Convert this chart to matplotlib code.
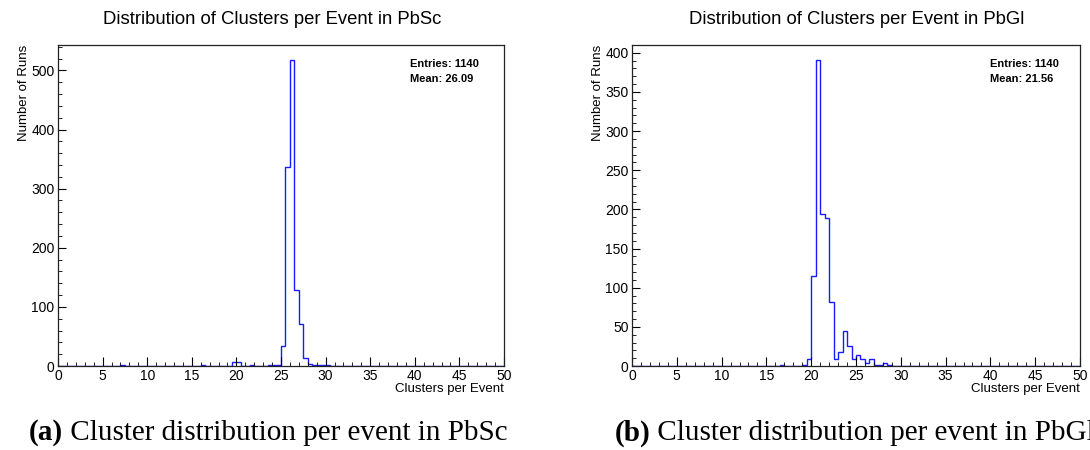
import numpy as np
import matplotlib
matplotlib.use("Agg")
import matplotlib.pyplot as plt
from matplotlib.ticker import MultipleLocator

# ---------------- data ----------------
bin_edges = np.linspace(0, 50, 101)  # 0.5-wide bins

pbsc_bin_lo = [7.0, 16.0, 19.5, 20.0, 21.5, 23.5, 24.0, 24.5, 25.0, 25.5,
               26.0, 26.5, 27.0, 27.5, 28.0, 28.5, 29.0, 29.5, 30.0]
pbsc_counts = [1, 1, 7, 7, 1, 1, 1, 2, 33, 337,
               517, 129, 71, 13, 4, 1, 1, 1, 1]

pbgl_bin_lo = [16.5, 19.0, 19.5, 20.0, 20.5, 21.0, 21.5, 22.0, 22.5, 23.0,
               23.5, 24.0, 24.5, 25.0, 25.5, 26.0, 26.5, 27.0, 27.5, 28.0, 28.5]
pbgl_counts = [1, 1, 9, 115, 391, 194, 189, 82, 9, 18,
               45, 25, 9, 14, 9, 4, 9, 1, 1, 4, 1]

titles = ["Distribution of Clusters per Event in PbSc",
          "Distribution of Clusters per Event in PbGl"]
stats_entries = ["Entries: 1140", "Entries: 1140"]
stats_mean = ["Mean: 26.09", "Mean: 21.56"]
captions = [("(a)", " Cluster distribution per event in PbSc"),
            ("(b)", " Cluster distribution per event in PbGl")]
x_label = "Clusters per Event"
y_label = "Number of Runs"


def fill(lo, counts):
    vals = np.zeros(len(bin_edges) - 1)
    for l, c in zip(lo, counts):
        vals[int(round(l / 0.5))] = c
    return vals


hists = [fill(pbsc_bin_lo, pbsc_counts), fill(pbgl_bin_lo, pbgl_counts)]

# ---------------- figure ----------------
plt.rcParams['font.family'] = ['Liberation Sans', 'DejaVu Sans']
fig = plt.figure(figsize=(10.9, 4.5), dpi=100)
W, H = 1090.0, 450.0

axes_px = [(58, 504), (632, 1080)]
top_px, bot_px = 45, 366
ylims = [543, 410]
ymaj = [100, 50]
ymin = [20, 10]
title_x = [272, 857]
stat_x = [410, 990]

for i in range(2):
    x0, x1 = axes_px[i]
    ax = fig.add_axes([x0 / W, (H - bot_px) / H, (x1 - x0) / W, (bot_px - top_px) / H])
    ax.stairs(hists[i], bin_edges, color='#1a1aff', lw=1.0, zorder=1)
    ax.set_xlim(0, 50)
    ax.set_ylim(0, ylims[i])
    ax.xaxis.set_major_locator(MultipleLocator(5))
    ax.xaxis.set_minor_locator(MultipleLocator(1))
    ax.yaxis.set_major_locator(MultipleLocator(ymaj[i]))
    ax.yaxis.set_minor_locator(MultipleLocator(ymin[i]))
    ax.tick_params(which='both', direction='in', top=False, right=False,
                   labelsize=10, colors='black')
    ax.tick_params(axis='x', which='major', length=6.5, pad=2)
    ax.tick_params(axis='x', which='minor', length=3.1)
    ax.tick_params(axis='y', which='major', length=5.8, pad=2.5)
    ax.tick_params(axis='y', which='minor', length=2.9)
    for s in ax.spines.values():
        s.set_linewidth(0.9)
        s.set_color('#222222')
    ax.set_xlabel(x_label, loc='right', fontsize=9.5, labelpad=0)
    ax.set_ylabel(y_label, loc='top', fontsize=9.5, labelpad=1)
    fig.text(title_x[i] / W, 1 - 19 / H, titles[i], ha='center', va='center',
             fontsize=13.3)
    fig.text(stat_x[i] / W, 1 - 64 / H, stats_entries[i], ha='left', va='center',
             fontsize=8, fontweight='bold')
    fig.text(stat_x[i] / W, 1 - 79 / H, stats_mean[i], ha='left', va='center',
             fontsize=8, fontweight='bold')

cap_center = [268, 855]
cap_size = 21
for i in range(2):
    t1 = fig.text(0, 1 - 433 / H, captions[i][0], ha='left', va='center',
                  fontsize=cap_size, fontweight='bold', family='Liberation Serif')
    t2 = fig.text(0, 1 - 433 / H, captions[i][1], ha='left', va='center',
                  fontsize=cap_size, family='Liberation Serif')
    fig.canvas.draw()
    w1 = t1.get_window_extent().width
    w2 = t2.get_window_extent().width
    start = cap_center[i] - (w1 + w2) / 2
    t1.set_x(start / W)
    t2.set_x((start + w1) / W)

fig.savefig("out.png", dpi=100)
